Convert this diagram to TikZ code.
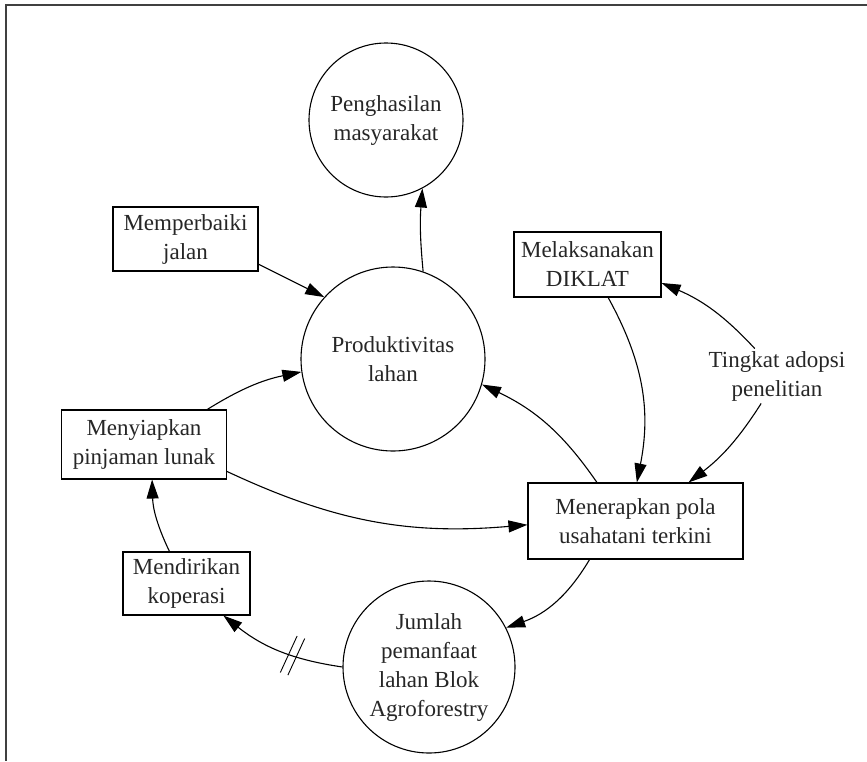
\documentclass[tikz,border=0pt]{standalone}
\usepackage{fontspec}
\setmainfont{Liberation Serif}
\usetikzlibrary{arrows.meta,decorations.markings}

\begin{document}
\begin{tikzpicture}[x=1pt, y=-1pt, line width=1.1pt,
  every node/.style={font=\fontsize{23}{29}\selectfont, align=center, text=black!85},
  stock/.style={draw, circle, inner sep=0pt},
  act/.style={draw, rectangle, inner sep=0pt},
  arr/.style={-{Triangle[length=19pt,width=12pt]}},
  cut/.style={postaction={decorate}, decoration={markings,
    mark=at position #1 with {\draw[-, line width=0.9pt] (-2,-20) -- (-6,20); \draw[-, line width=0.9pt] (6,-20) -- (2,20);}}}]
  \useasboundingbox (0,0) rectangle (867,761);
  % frame
  \draw[line width=1.4pt, black!75] (867,5) -- (6,5) -- (6,761);
  % levels
  \node[stock, minimum size=154pt] (peng) at (386,120) {Penghasilan\\masyarakat};
  \node[stock, minimum size=184pt] (prod) at (393,359) {Produktivitas\\lahan};
  \node[stock, minimum size=172pt] (jum) at (429,667) {Jumlah\\pemanfaat\\lahan Blok\\Agroforestry};
  % actions
  \node[act, minimum width=145pt, minimum height=64pt] (perb) at (185.5,239) {Memperbaiki\\jalan};
  \node[act, minimum width=165pt, minimum height=69pt] (siap) at (144,444.5) {Menyiapkan\\pinjaman lunak};
  \node[act, minimum width=127pt, minimum height=63pt] (diri) at (186.5,583.5) {Mendirikan\\koperasi};
  \node[act, minimum width=147pt, minimum height=65pt] (laks) at (587.5,264.5) {Melaksanakan\\DIKLAT};
  \node[act, minimum width=215pt, minimum height=76pt] (terap) at (635.5,521) {Menerapkan pola\\usahatani terkini};
  \node[inner sep=2pt] (ting) at (777,376) {Tingkat adopsi\\penelitian};
  % links
  \draw[arr] (prod.71) to[bend left=5] (peng.-62);
  \draw[arr] (perb.-19) -- (prod.138);
  \draw[arr] (siap.29) to[bend left=10] (prod.-172);
  \draw[arr] (siap.-18) to[bend right=15] (terap.182);
  \draw[arr] (diri.118) to[bend left=12] (siap.-77);
  \draw[arr, cut=0.39] (jum.180) to[bend left=15] (diri.-41);
  \draw[arr] (terap.135) to[bend right=15] (prod.-16);
  \draw[arr] (laks.-58) to[bend left=20] (terap.88);
  \draw[arr] (ting.129) to[bend right=12] (laks.-14);
  \draw[arr] (ting.-120) to[bend left=10] (terap.36);
  \draw[arr] (terap.-140) to[bend left=20] (jum.27);
\end{tikzpicture}
\end{document}
